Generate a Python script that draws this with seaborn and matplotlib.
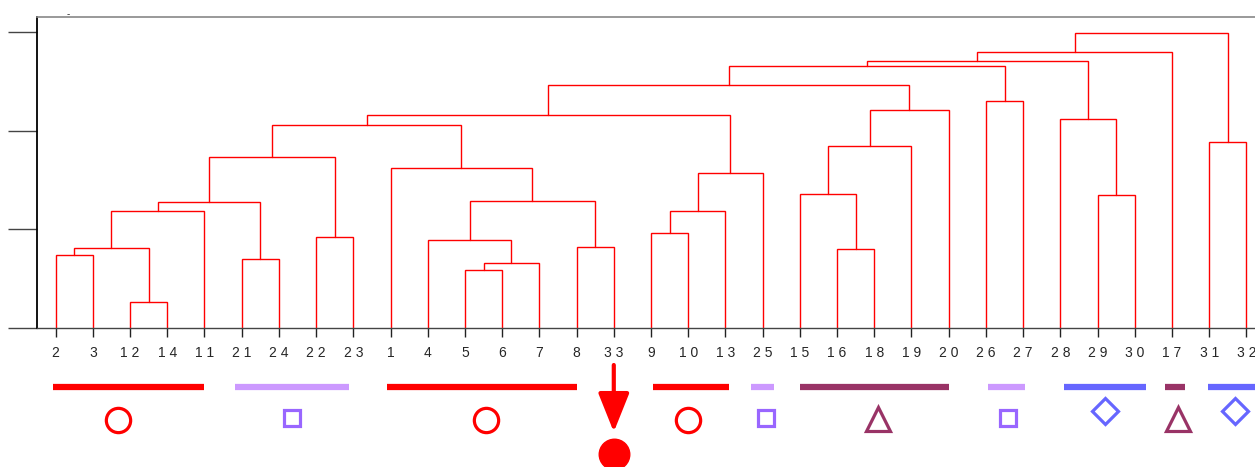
import numpy as np
import matplotlib
matplotlib.use("Agg")
import matplotlib.pyplot as plt
import seaborn as sns

# leaf order along the x axis
leaf_order = [2, 3, 12, 14, 11, 21, 24, 22, 23, 1, 4, 5, 6, 7, 8, 33, 9, 10, 13,
              25, 15, 16, 18, 19, 20, 26, 27, 28, 29, 30, 17, 31, 32]

# merges: node ids 34.. are created in this order (left child, right child, height)
merge_left = [2, 12, 34, 36, 21, 37, 22, 39, 5, 42, 4, 8, 44, 1, 41, 9, 49, 50,
              48, 16, 15, 54, 55, 52, 26, 57, 29, 28, 59, 62, 31, 63]
merge_right = [3, 14, 35, 11, 24, 38, 23, 40, 6, 7, 43, 33, 45, 46, 47, 10, 13, 25,
               51, 18, 53, 19, 20, 56, 27, 58, 30, 60, 61, 17, 32, 64]
merge_height = [0.737, 0.267, 0.814, 1.186, 0.699, 1.277, 0.922, 1.730, 0.585, 0.659,
                0.892, 0.818, 1.284, 1.619, 2.057, 0.966, 1.183, 1.568, 2.156, 0.801,
                1.361, 1.848, 2.212, 2.460, 2.298, 2.658, 1.348, 2.115, 2.703, 2.794,
                1.882, 2.993]

# group bars under the leaves (extent in leaf-index units)
group_start = [-0.08, 4.81, 8.9, 16.05, 18.7, 20.0, 25.05, 27.1, 29.8, 30.97]
group_end = [4.0, 7.88, 14.0, 18.1, 19.3, 24.0, 26.05, 29.3, 30.35, 32.6]
group_color = ["#ff0000", "#cc99ff", "#ff0000", "#ff0000", "#cc99ff", "#993366",
               "#cc99ff", "#6666ff", "#993366", "#6666ff"]
symbol_x = [1.67, 6.34, 11.56, 16.99, 19.09, 22.1, 25.6, 28.2, 30.16, 31.7]
symbol_kind = ["circle", "square", "circle", "circle", "square", "triangle",
               "square", "diamond", "triangle", "diamond"]
highlight_leaf = 33

sns.set_style("white")
plt.rcParams['font.family'] = ['Liberation Sans', 'DejaVu Sans']

fig = plt.figure(figsize=(12.55, 4.67), dpi=100)
ax = fig.add_axes([37 / 1255, 139 / 467, 1228 / 1255, 311 / 467])

# x positions of leaves and merged nodes
xpos = {leaf: i for i, leaf in enumerate(leaf_order)}
ypos = {leaf: 0.0 for leaf in leaf_order}
for k, (a, b, h) in enumerate(zip(merge_left, merge_right, merge_height)):
    node = 34 + k
    xa, xb = xpos[a], xpos[b]
    ax.plot([xa, xa, xb, xb], [ypos[a], h, h, ypos[b]], color="#ff0000", lw=1.0,
            solid_joinstyle="miter")
    xpos[node] = (xa + xb) / 2
    ypos[node] = h

ax.set_xlim(-0.5, len(leaf_order) - 0.5)
ax.set_ylim(0, 3.15)
ax.set_xticks(range(len(leaf_order)))
ax.set_xticklabels([" ".join(str(v)) for v in leaf_order], fontsize=10)
ax.set_yticks([0, 1, 2, 3])
ax.set_yticklabels([])
ax.tick_params(axis="y", direction="out", length=21, width=1.0, color="#444444",
               left=True)
ax.tick_params(axis="x", direction="out", length=6.5, width=1.0, color="#222222",
               pad=6.5, bottom=True)
ax.spines["left"].set_color("#000000")
ax.spines["left"].set_linewidth(1.3)
ax.spines["bottom"].set_color("#444444")
ax.spines["bottom"].set_linewidth(1.0)
ax.spines["top"].set_color("#888888")
ax.spines["top"].set_linewidth(1.2)
ax.spines["right"].set_visible(False)

fig.text(68 / 1255, 1 - 14 / 467, "-", fontsize=7, ha="center", va="center")

# annotation strip under the leaves (y in pixels below y=340)
ax2 = fig.add_axes([37 / 1255, 0, 1228 / 1255, 127 / 467])
ax2.set_xlim(-0.5, len(leaf_order) - 0.5)
ax2.set_ylim(127, 0)
ax2.axis("off")

marker_map = {"circle": ("o", 17.5, 80, "#ff0000"),
              "square": ("s", 11.5, 78, "#9966ff"),
              "triangle": ("^", 17, 79, "#993366"),
              "diamond": ("D", 13.5, 71, "#6666ff")}

for s, e, c in zip(group_start, group_end, group_color):
    ax2.plot([s, e], [47, 47], color=c, lw=4.5, solid_capstyle="butt")

for x, kind, c in zip(symbol_x, symbol_kind, group_color):
    m, ms, y, mc = marker_map[kind]
    if kind == "circle":
        mc = c
    ax2.plot([x], [y], marker=m, ms=ms, mfc="none", mec=mc, mew=2.3)

hx = xpos[highlight_leaf]
ax2.annotate("", xy=(hx, 92), xytext=(hx, 25),
             arrowprops=dict(arrowstyle="-|>,head_length=1.0,head_width=0.4",
                             color="#ff0000", lw=3, mutation_scale=24,
                             shrinkA=0, shrinkB=0))
ax2.plot([hx], [114], marker="o", ms=22, color="#ff0000", clip_on=False)

fig.savefig("out.png", dpi=100)
